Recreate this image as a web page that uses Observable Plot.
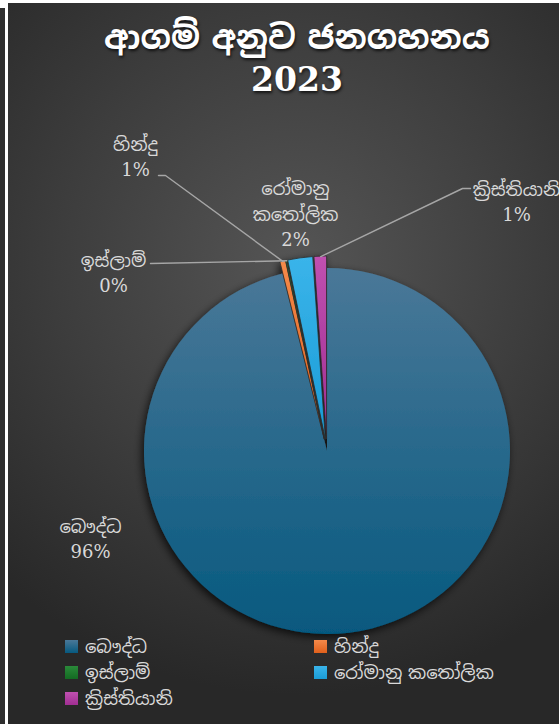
<!DOCTYPE html>
<html><head><meta charset="utf-8">
<script src="https://cdn.jsdelivr.net/npm/d3@7"></script>
<script src="https://cdn.jsdelivr.net/npm/@observablehq/plot@0.6"></script>
<style>
html,body{margin:0;padding:0;background:#fff;overflow:hidden;width:559px;height:724px;}
#strip{position:absolute;left:0;top:8px;width:5px;height:716px;background:#2e2e2e;}
#chart{position:absolute;left:8px;top:3px;width:578px;height:721px;overflow:hidden;
  background:radial-gradient(ellipse 75% 60% at 50% 36%, #555555 0%, #3d3d3d 55%, #282828 100%);
  font-family:"DejaVu Serif","Noto Sans Sinhala","Iskoola Pota",serif;}
#title{height:107px;color:#fff;text-align:center;font-weight:bold;font-size:33px;line-height:42px;
  padding-top:14px;box-sizing:border-box;text-shadow:1px 2px 3px rgba(0,0,0,0.7);}
#plot{position:absolute;left:0;top:107px;}
#legend{position:absolute;left:0;top:630px;width:578px;height:90px;color:#d9d9d9;font-size:18px;}
.li{position:absolute;display:flex;align-items:center;height:26px;white-space:nowrap;}
.sw{width:13px;height:13px;margin-right:7px;}
</style></head>
<body>
<div id="strip"></div>
<div id="chart">
  <div id="title"></div>
  <div id="plot"></div>
  <div id="legend"></div>
</div>
<script>
// ---- data ----
const titleLines = ["ආගම් අනුව ජනගහනය", "2023"];
const religions = ["බෞද්ධ", "හින්දු", "ඉස්ලාම්", "රෝමානු කතෝලික", "ක්‍රිස්තියානි"];
const shares = [96.1, 0.5, 0.1, 2.2, 1.1]; // percent
const pctLabels = ["96%", "1%", "0%", "2%", "1%"];
const labelNames = ["බෞද්ධ", "හින්දු", "ඉස්ලාම්", "රෝමානු\nකතෝලික", "ක්‍රිස්තියානි"];

// ---- styles / layout ----
const colorTop = ["#4a7898", "#f58a4a", "#2a8a3a", "#3ab4ea", "#bf50b0"];
const colorBot = ["#06597f", "#e0601c", "#136a22", "#1a9cd6", "#a02e92"];
const R = 183;           // radius in plot units (px)
const explode = [0, 12, 12, 12, 12];
// label centers (x, y in plot units relative to pie center, y down)
const labelX = [-237, -192, -214, -32, 189];
const labelY = [86, -296, -180, -239, -251];
// leader elbows (null = no leader)
const leaderPts = [null, [[-169, -276], [-162, -276]], [[-177, -188]], null, [[143, -263], [135, -263]]];
const legendPos = [[57, 0], [306, 0], [57, 26], [306, 26], [57, 52]];

document.getElementById("title").innerHTML = titleLines.map(t => `<div>${t}</div>`).join("");

const pie = d3.pie().sort(null).value(d => d.v).startAngle(0).endAngle(2 * Math.PI);
const rows = religions.map((name, i) => ({name, v: shares[i], i}));
const arcs = pie(rows);

// leader lines data
const leaderData = [];
arcs.forEach((a, i) => {
  if (!leaderPts[i]) return;
  const mid = (a.startAngle + a.endAngle) / 2;
  const pts = leaderPts[i].concat([[Math.sin(mid) * (R + explode[i]), -Math.cos(mid) * (R + explode[i])]]);
  pts.forEach(p => leaderData.push({k: i, x: p[0], y: p[1]}));
});

const labelData = religions.map((n, i) => ({text: labelNames[i] + "\n" + pctLabels[i], x: labelX[i], y: labelY[i]}));

function pieMark(index, scales, values, dimensions, context) {
  const fx = typeof scales.x === "function" ? scales.x : scales.x.apply;
  const fy = typeof scales.y === "function" ? scales.y : scales.y.apply;
  const cx = fx(0), cy = fy(0);
  const r = fx(R) - fx(0);
  const g = d3.create("svg:g");
  const defs = g.append("defs");
  const f = defs.append("filter").attr("id", "pshadow").attr("x", "-20%").attr("y", "-20%").attr("width", "140%").attr("height", "140%");
  f.append("feDropShadow").attr("dx", -2).attr("dy", 3).attr("stdDeviation", 4).attr("flood-color", "#000").attr("flood-opacity", 0.75);
  arcs.forEach((a, i) => {
    const lg = defs.append("linearGradient").attr("id", "sg" + i).attr("x1", 0).attr("y1", 0).attr("x2", 0).attr("y2", 1);
    lg.append("stop").attr("offset", "0%").attr("stop-color", colorTop[i]);
    lg.append("stop").attr("offset", "100%").attr("stop-color", colorBot[i]);
  });
  const arc = d3.arc().innerRadius(0).outerRadius(r);
  const pg = g.append("g").attr("filter", "url(#pshadow)");
  arcs.forEach((a, i) => {
    const mid = (a.startAngle + a.endAngle) / 2;
    const ox = cx + explode[i] * Math.sin(mid), oy = cy - explode[i] * Math.cos(mid);
    pg.append("path")
      .attr("d", arc(a))
      .attr("transform", `translate(${ox},${oy})`)
      .attr("fill", `url(#sg${i})`)
      .attr("stroke", i === 0 ? "none" : "#2c2c2c")
      .attr("stroke-width", 0.8);
  });
  return g.node();
}

const W = 578, H = 525;
const chart = Plot.plot({
  width: W, height: H,
  margin: 0,
  style: {background: "transparent", overflow: "visible"},
  x: {domain: [-319, W - 319], range: [0, W], axis: null},
  y: {domain: [-341, H - 341], range: [0, H], axis: null},
  marks: [
    pieMark,
    Plot.line(leaderData, {x: "x", y: "y", z: "k", stroke: "#a6a6a6", strokeWidth: 1.4}),
    Plot.text(labelData, {x: "x", y: "y", text: "text", fill: "#d9d9d9", fontSize: 18, lineHeight: 1.4,
      fontFamily: "'DejaVu Serif','Noto Sans Sinhala','Iskoola Pota',serif", textAnchor: "middle"})
  ]
});
document.getElementById("plot").appendChild(chart);

const leg = document.getElementById("legend");
religions.forEach((n, i) => {
  const d = document.createElement("div");
  d.className = "li";
  d.style.left = legendPos[i][0] + "px";
  d.style.top = legendPos[i][1] + "px";
  d.innerHTML = `<span class="sw" style="background:linear-gradient(${colorTop[i]},${colorBot[i]})"></span><span>${n}</span>`;
  leg.appendChild(d);
});
</script>
</body></html>
